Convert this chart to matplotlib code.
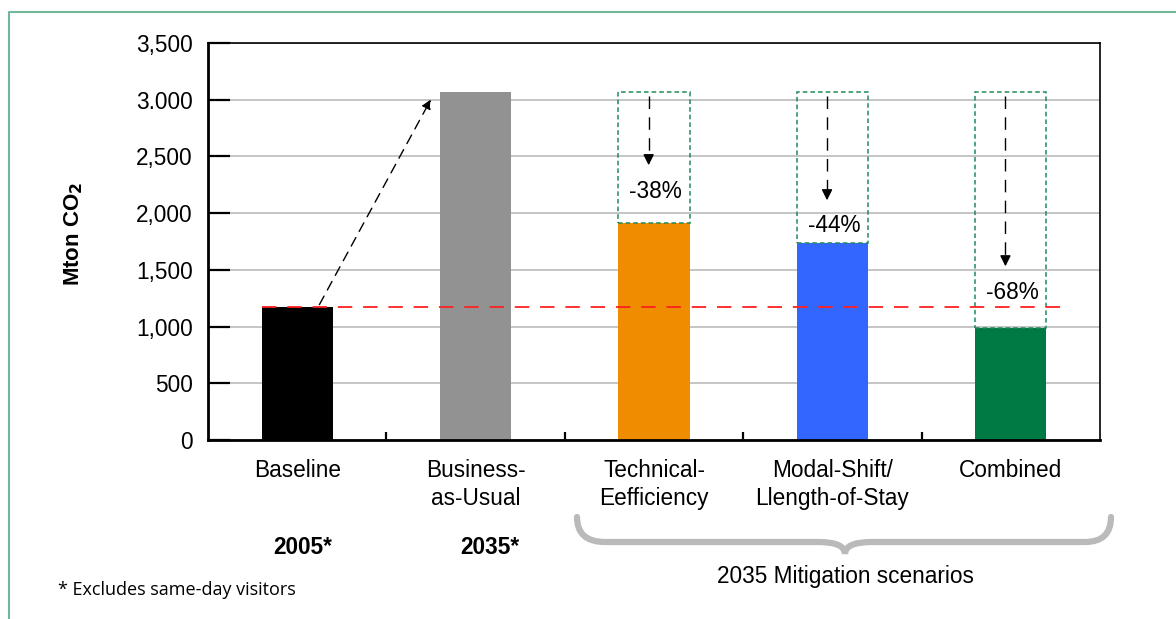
import numpy as np
import matplotlib.pyplot as plt
from matplotlib.path import Path
from matplotlib.patches import PathPatch, Rectangle
from matplotlib.lines import Line2D

# data
categories = ["Baseline", "Business-\nas-Usual", "Technical-\nEefficiency",
              "Modal-Shift/\nLlength-of-Stay", "Combined"]
emissions = [1172, 3068, 1913, 1737, 987]
colors = ["#000000", "#929292", "#f08c00", "#3366ff", "#007a45"]
reductions = ["-38%", "-44%", "-68%"]
arrow_tips = [2398, 2089, 1507]
label_heights = [2195, 1895, 1296]
year_labels = ["2005*", "2035*"]
ytick_values = [0, 500, 1000, 1500, 2000, 2500, 3000, 3500]
ytick_labels = ["0", "500", "1,000", "1,500", "2,000", "2,500", "3.000", "3,500"]

W, H = 1176, 619
fig = plt.figure(figsize=(W / 100, H / 100), dpi=100)
plt.rcParams['font.family'] = ['Liberation Sans', 'DejaVu Sans']
FS = 16.3


def fx(px):
    return px / W


def fy(py):
    return 1 - py / H


ax = fig.add_axes([fx(208), fy(440), fx(1100) - fx(208), fy(43) - fy(440)])

x = np.arange(len(categories))
bar_w = 0.4
ax.bar(x, emissions, width=bar_w, color=colors, zorder=2)

ax.set_xlim(-0.5, 4.5)
ax.set_ylim(0, 3500)
ax.set_yticks(ytick_values)
ax.set_yticklabels(ytick_labels, fontsize=FS)
ax.set_xticks(x)
ax.set_xticklabels(categories, fontsize=FS, linespacing=1.25)
ax.set_xticks(x[:-1] + 0.5, minor=True)
ax.tick_params(axis='x', which='major', length=0, pad=14)
ax.tick_params(axis='x', which='minor', direction='in', length=6, width=1.6)
ax.tick_params(axis='y', direction='in', length=16, width=1.6, pad=11)
ax.yaxis.grid(True, color='#b5b5b5', lw=1.1, zorder=0)
ax.set_axisbelow(True)
for side in ['left', 'bottom']:
    ax.spines[side].set_linewidth(2)
for side in ['top', 'right']:
    ax.spines[side].set_linewidth(1.2)

ax.set_ylabel("Mton CO$_\\mathbf{2}$", fontsize=16, fontweight='bold')
ax.yaxis.set_label_coords(-0.138, 0.52)

# baseline reference line
bau = emissions[1]
ax.plot([-bar_w / 2, 4.33], [emissions[0], emissions[0]], color='#ff2020',
        ls=(0, (8, 6)), lw=1.3, zorder=4)

# growth arrow baseline -> BAU
ax.annotate('', xy=(0.757, 3024), xytext=(0.117, emissions[0]),
            arrowprops=dict(arrowstyle='-|>', color='black', lw=1,
                            ls=(0, (7, 5)), mutation_scale=14), zorder=5)

# reduction boxes, arrows and labels
for i, (lab, tip, ly) in enumerate(zip(reductions, arrow_tips, label_heights)):
    xi = x[i + 2]
    val = emissions[i + 2]
    ax.add_patch(Rectangle((xi - bar_w / 2, val), bar_w, bau - val, fill=False,
                           ec='#1f8a5a', lw=1.1, ls=(0, (3, 2)), zorder=3))
    ax.plot([xi - 0.03, xi - 0.03], [3030, tip + 120], color='black',
            ls=(0, (9, 6)), lw=1, zorder=4)
    ax.annotate('', xy=(xi - 0.03, tip), xytext=(xi - 0.03, tip + 130),
                arrowprops=dict(arrowstyle='-|>', color='black', lw=1,
                                mutation_scale=16), zorder=5)
    ax.text(xi + 0.01, ly, lab, ha='center', va='center', fontsize=FS, zorder=5)

# year labels below the axis
for xi, lab in zip([0.03, 0.08 + 1], year_labels):
    ax.text(xi, -0.272, lab, transform=ax.get_xaxis_transform(), ha='center',
            va='center', fontsize=FS, fontweight='bold')

# brace under the mitigation scenarios
verts = [(577, 517), (577, 542), (605, 542), (818, 542), (845, 542), (845, 554),
         (845, 542), (872, 542), (1085, 542), (1111, 542), (1111, 517)]
codes = [Path.MOVETO, Path.CURVE3, Path.CURVE3, Path.LINETO, Path.CURVE3, Path.CURVE3,
         Path.CURVE3, Path.CURVE3, Path.LINETO, Path.CURVE3, Path.CURVE3]
brace = Path([(fx(a), fy(b)) for a, b in verts], codes)
fig.patches.append(PathPatch(brace, transform=fig.transFigure, fill=False,
                             ec='#bababa', lw=4.5, capstyle='round'))
fig.text(fx(845), fy(576), "2035 Mitigation scenarios", ha='center', va='center',
         fontsize=FS)

fig.text(fx(58), fy(590), "* Excludes same-day visitors", ha='left', va='center',
         fontsize=13, family=['Open Sans', 'DejaVu Sans'])

# thin frame around the figure
fig.lines.append(Line2D([fx(9), fx(9), fx(1176)], [0, fy(12), fy(12)],
                        transform=fig.transFigure, color='#6fb99a', lw=1.5))

fig.savefig("out.png", dpi=100)
